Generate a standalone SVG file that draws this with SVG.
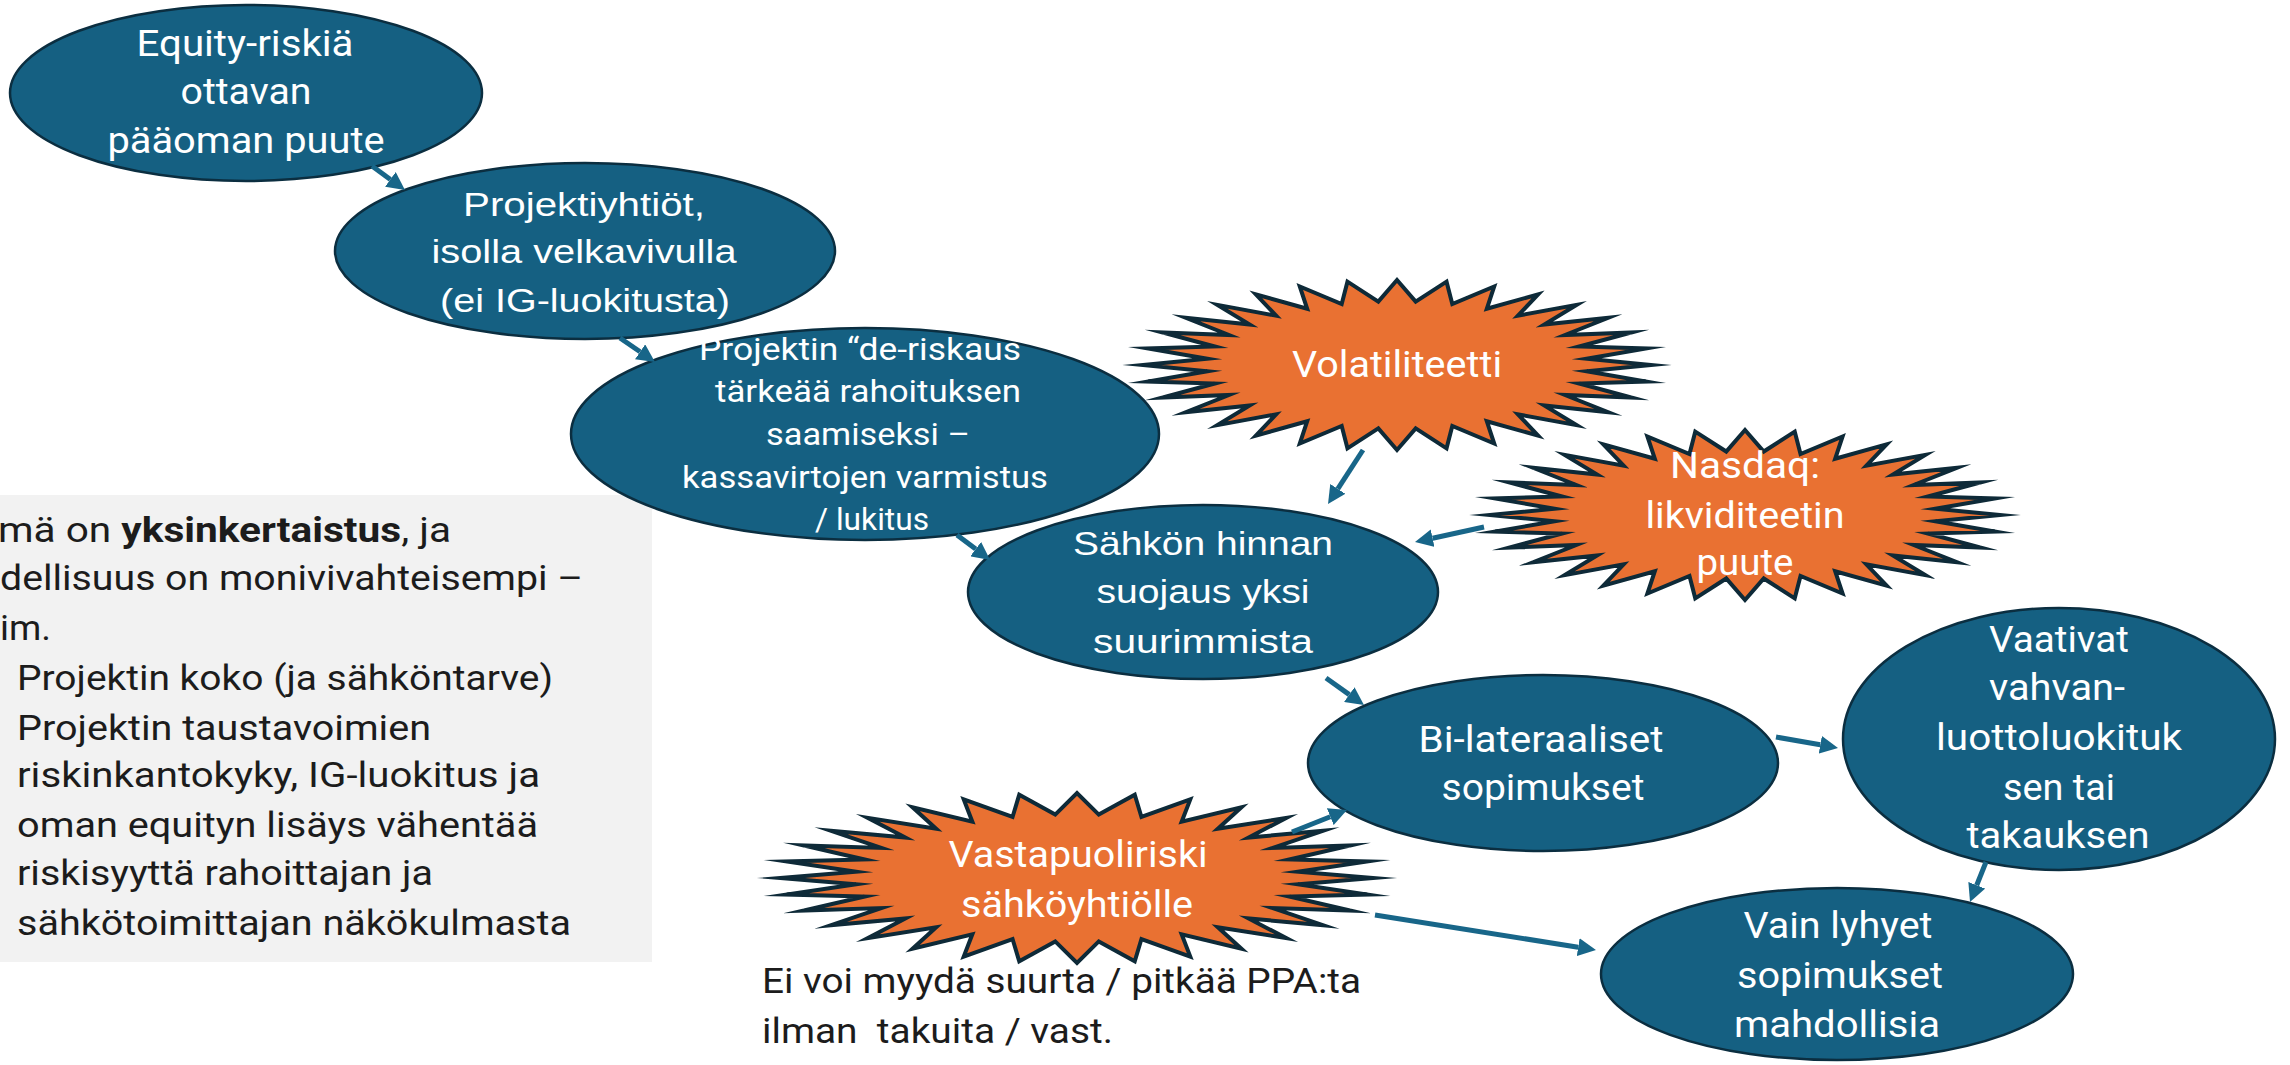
<svg xmlns="http://www.w3.org/2000/svg" xmlns:xlink="http://www.w3.org/1999/xlink" width="2290" height="1065" viewBox="0 0 2290 1065">
  <style>
    .node ellipse { fill: #156082; stroke: #0b2e40; stroke-width: 2.5; }
    .burst use { fill: #e97132; stroke: #0e2a38; stroke-width: 4; stroke-linejoin: miter; stroke-miterlimit: 20; }
    .lbl { fill: #ffffff; font-family: Roboto, "DejaVu Sans Condensed", "Liberation Sans", sans-serif; font-size: 36px; text-anchor: middle; }
    .wide { font-family: "Liberation Sans", Arial, sans-serif; font-size: 34px; }
    .small { font-size: 31px; }
    .note { fill: #1c1c1c; font-family: Roboto, "DejaVu Sans Condensed", "Liberation Sans", sans-serif; font-size: 35px; }
    .conn line { stroke: #186689; stroke-width: 5; marker-end: url(#ah); }
  </style>
  <defs>
    <marker id="ah" viewBox="0 0 4 4" refX="0" refY="2" markerWidth="3.6" markerHeight="3.6" orient="auto" markerUnits="strokeWidth">
      <path d="M0,0 L4,2 L0,4 Z" fill="#186689"/>
    </marker>
    <!-- 32-point star on a unit circle, inner radius 0.75 -->
    <path id="star32" vector-effect="non-scaling-stroke" d="M1,0 L.74639,.07352 .98079,.19509 .71771,.21771 .92388,.38268 .66144,.35355 .83147,.55557 .57976,.47579 .70711,.70711 .47579,.57976 .55557,.83147 .35355,.66144 .38268,.92388 .21771,.71771 .19509,.98079 .07352,.74639 0,1 -.07352,.74639 -.19509,.98079 -.21771,.71771 -.38268,.92388 -.35355,.66144 -.55557,.83147 -.47579,.57976 -.70711,.70711 -.57976,.47579 -.83147,.55557 -.66144,.35355 -.92388,.38268 -.71771,.21771 -.98079,.19509 -.74639,.07352 -1,0 -.74639,-.07352 -.98079,-.19509 -.71771,-.21771 -.92388,-.38268 -.66144,-.35355 -.83147,-.55557 -.57976,-.47579 -.70711,-.70711 -.47579,-.57976 -.55557,-.83147 -.35355,-.66144 -.38268,-.92388 -.21771,-.71771 -.19509,-.98079 -.07352,-.74639 0,-1 .07352,-.74639 .19509,-.98079 .21771,-.71771 .38268,-.92388 .35355,-.66144 .55557,-.83147 .47579,-.57976 .70711,-.70711 .57976,-.47579 .83147,-.55557 .66144,-.35355 .92388,-.38268 .71771,-.21771 .98079,-.19509 .74639,-.07352 Z"/>
  </defs>

  <rect width="2290" height="1065" fill="#ffffff"/>

  <!-- side note panel -->
  <g id="note-panel">
    <rect x="0" y="495" width="652" height="467" fill="#f2f2f2"/>
    <text class="note" x="-2" y="542" textLength="453" lengthAdjust="spacingAndGlyphs">mä on <tspan font-weight="bold">yksinkertaistus</tspan>, ja</text>
    <text class="note" x="0" y="590" textLength="583" lengthAdjust="spacingAndGlyphs">dellisuus on monivivahteisempi –</text>
    <text class="note" x="0" y="640" textLength="51" lengthAdjust="spacingAndGlyphs">im.</text>
    <text class="note" x="17" y="690" textLength="536" lengthAdjust="spacingAndGlyphs">Projektin koko (ja sähköntarve)</text>
    <text class="note" x="17" y="740" textLength="414" lengthAdjust="spacingAndGlyphs">Projektin taustavoimien</text>
    <text class="note" x="17" y="787" textLength="523" lengthAdjust="spacingAndGlyphs">riskinkantokyky, IG-luokitus ja</text>
    <text class="note" x="17" y="837" textLength="521" lengthAdjust="spacingAndGlyphs">oman equityn lisäys vähentää</text>
    <text class="note" x="17" y="885" textLength="416" lengthAdjust="spacingAndGlyphs">riskisyyttä rahoittajan ja</text>
    <text class="note" x="17" y="935" textLength="554" lengthAdjust="spacingAndGlyphs">sähkötoimittajan näkökulmasta</text>
  </g>

  <!-- caption under the counterparty burst -->
  <g id="caption">
    <text class="note" x="762" y="993" textLength="599" lengthAdjust="spacingAndGlyphs">Ei voi myydä suurta / pitkää PPA:ta</text>
    <text class="note" x="762" y="1043" xml:space="preserve" textLength="351" lengthAdjust="spacingAndGlyphs">ilman  takuita / vast.</text>
  </g>

  <g id="equity" class="node">
    <ellipse cx="246" cy="93" rx="236" ry="88"/>
    <text class="lbl" x="245" y="56" textLength="217" lengthAdjust="spacingAndGlyphs">Equity-riskiä</text>
    <text class="lbl" x="246" y="104" textLength="131" lengthAdjust="spacingAndGlyphs">ottavan</text>
    <text class="lbl" x="246" y="153" textLength="277" lengthAdjust="spacingAndGlyphs">pääoman puute</text>
  </g>

  <g id="projektiyhtiot" class="node">
    <ellipse cx="585" cy="251" rx="250" ry="88"/>
    <text class="lbl wide" x="584" y="216" textLength="242" lengthAdjust="spacingAndGlyphs">Projektiyhtiöt,</text>
    <text class="lbl wide" x="584" y="263" textLength="305" lengthAdjust="spacingAndGlyphs">isolla velkavivulla</text>
    <text class="lbl wide" x="585" y="312" textLength="290" lengthAdjust="spacingAndGlyphs">(ei IG-luokitusta)</text>
  </g>

  <g id="deriskaus" class="node">
    <ellipse cx="865" cy="434" rx="294" ry="106"/>
    <text class="lbl small" x="860" y="360" textLength="322" lengthAdjust="spacingAndGlyphs">Projektin “de-riskaus</text>
    <text class="lbl small" x="868" y="402" textLength="306" lengthAdjust="spacingAndGlyphs">tärkeää rahoituksen</text>
    <text class="lbl small" x="868" y="445" textLength="204" lengthAdjust="spacingAndGlyphs">saamiseksi –</text>
    <text class="lbl small" x="865" y="488" textLength="366" lengthAdjust="spacingAndGlyphs">kassavirtojen varmistus</text>
    <text class="lbl small" x="872" y="530" textLength="114" lengthAdjust="spacingAndGlyphs">/ lukitus</text>
  </g>

  <g id="hintasuojaus" class="node">
    <ellipse cx="1203" cy="592" rx="235" ry="87"/>
    <text class="lbl wide" x="1203" y="555" textLength="260" lengthAdjust="spacingAndGlyphs">Sähkön hinnan</text>
    <text class="lbl wide" x="1203" y="603" textLength="213" lengthAdjust="spacingAndGlyphs">suojaus yksi</text>
    <text class="lbl wide" x="1203" y="653" textLength="220" lengthAdjust="spacingAndGlyphs">suurimmista</text>
  </g>

  <g id="bilateraaliset" class="node">
    <ellipse cx="1543" cy="763" rx="235" ry="88"/>
    <text class="lbl" x="1541" y="752" textLength="245" lengthAdjust="spacingAndGlyphs">Bi-lateraaliset</text>
    <text class="lbl" x="1543" y="800" textLength="203" lengthAdjust="spacingAndGlyphs">sopimukset</text>
  </g>

  <g id="vaativat" class="node">
    <ellipse cx="2059" cy="739" rx="216" ry="131"/>
    <text class="lbl" x="2059" y="652" textLength="140" lengthAdjust="spacingAndGlyphs">Vaativat</text>
    <text class="lbl" x="2057" y="700" textLength="136" lengthAdjust="spacingAndGlyphs">vahvan-</text>
    <text class="lbl" x="2059" y="750" textLength="246" lengthAdjust="spacingAndGlyphs">luottoluokituk</text>
    <text class="lbl" x="2059" y="800" textLength="112" lengthAdjust="spacingAndGlyphs">sen tai</text>
    <text class="lbl" x="2058" y="848" textLength="183" lengthAdjust="spacingAndGlyphs">takauksen</text>
  </g>

  <g id="lyhyet" class="node">
    <ellipse cx="1837" cy="974" rx="236" ry="86"/>
    <text class="lbl" x="1838" y="938" textLength="189" lengthAdjust="spacingAndGlyphs">Vain lyhyet</text>
    <text class="lbl" x="1840" y="988" textLength="206" lengthAdjust="spacingAndGlyphs">sopimukset</text>
    <text class="lbl" x="1837" y="1037" textLength="206" lengthAdjust="spacingAndGlyphs">mahdollisia</text>
  </g>

  <g id="volatiliteetti" class="burst">
    <use xlink:href="#star32" href="#star32" transform="translate(1397 365) scale(254 85)"/>
    <text class="lbl" x="1397" y="377" textLength="210" lengthAdjust="spacingAndGlyphs">Volatiliteetti</text>
  </g>

  <g id="nasdaq" class="burst">
    <use xlink:href="#star32" href="#star32" transform="translate(1745 515) scale(255 85)"/>
    <text class="lbl" x="1745" y="478" textLength="150" lengthAdjust="spacingAndGlyphs">Nasdaq:</text>
    <text class="lbl" x="1745" y="528" textLength="199" lengthAdjust="spacingAndGlyphs">likviditeetin</text>
    <text class="lbl" x="1745" y="575" textLength="97" lengthAdjust="spacingAndGlyphs">puute</text>
  </g>

  <g id="vastapuoliriski" class="burst">
    <use xlink:href="#star32" href="#star32" transform="translate(1077 878) scale(296 85)"/>
    <text class="lbl" x="1078" y="867" textLength="259" lengthAdjust="spacingAndGlyphs">Vastapuoliriski</text>
    <text class="lbl" x="1077" y="917" textLength="232" lengthAdjust="spacingAndGlyphs">sähköyhtiölle</text>
  </g>

  <g id="connectors" class="conn">
    <line x1="372" y1="166" x2="390.4" y2="179.4"/>
    <line x1="620" y1="338" x2="640.1" y2="351.8"/>
    <line x1="957" y1="535" x2="975.7" y2="549.1"/>
    <line x1="1363" y1="450" x2="1337.8" y2="488.9"/>
    <line x1="1484" y1="527" x2="1432.6" y2="538.2"/>
    <line x1="1326" y1="678" x2="1349.3" y2="694.6"/>
    <line x1="1292" y1="832" x2="1330.3" y2="816.7"/>
    <line x1="1776" y1="737" x2="1820.3" y2="744.8"/>
    <line x1="1986" y1="862" x2="1976.7" y2="885.3"/>
    <line x1="1375" y1="915" x2="1578.2" y2="947.2"/>
  </g>
</svg>
